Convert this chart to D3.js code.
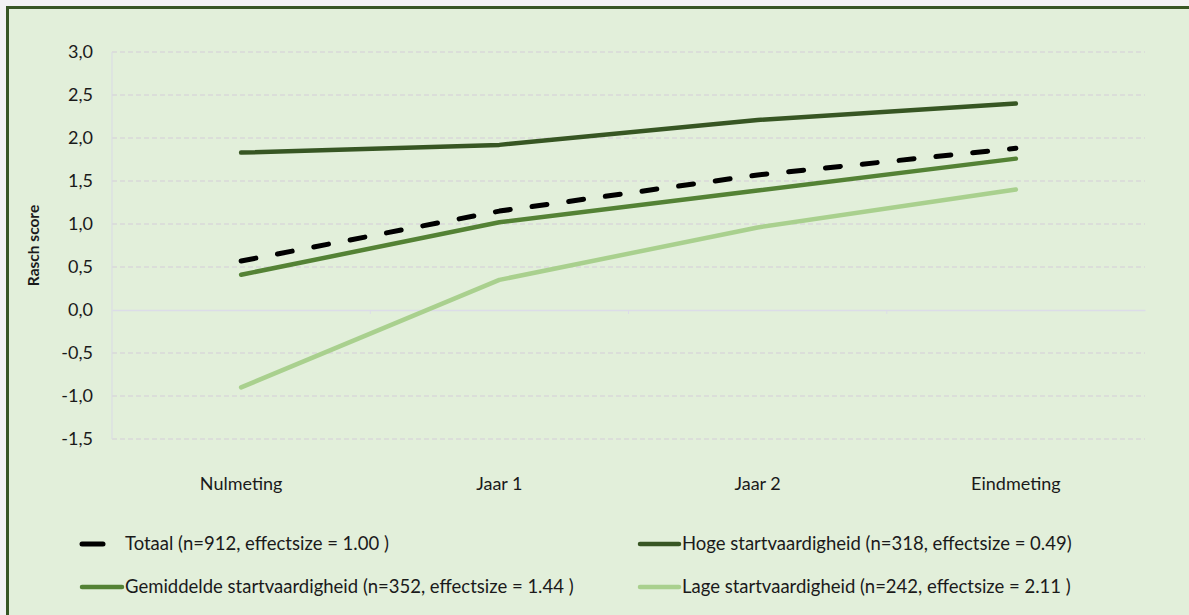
<!DOCTYPE html>
<html><head><meta charset="utf-8">
<script src="https://cdn.jsdelivr.net/npm/d3@7"></script>
<style>
html,body{margin:0;padding:0;background:#f2f2f2;}
svg{display:block;}
text{font-family:Lato,"Open Sans",sans-serif;fill:#1a1a1a;}
</style></head><body>
<script>
const categories = ["Nulmeting","Jaar 1","Jaar 2","Eindmeting"];
const seriesNames = [
  "Totaal (n=912, effectsize = 1.00 )",
  "Hoge startvaardigheid (n=318, effectsize = 0.49)",
  "Gemiddelde startvaardigheid (n=352, effectsize = 1.44 )",
  "Lage startvaardigheid (n=242, effectsize = 2.11 )"
];
const totaal = [0.57, 1.15, 1.57, 1.88];
const hoge = [1.83, 1.92, 2.21, 2.40];
const gemiddelde = [0.41, 1.02, 1.39, 1.76];
const lage = [-0.90, 0.35, 0.96, 1.40];
const yTicks = [-1.5,-1.0,-0.5,0,0.5,1.0,1.5,2.0,2.5,3.0];
const colors = ["#000000","#375623","#548235","#A9D08E"];

(function(){
const W=1189,H=615;
const svg=d3.select("body").append("svg").attr("width",W).attr("height",H);
svg.append("rect").attr("x",7).attr("y",7).attr("width",W).attr("height",H).attr("fill","#E2EFDA");
svg.append("path").attr("d",`M7.5,${H} V7.5 H${W}`).attr("fill","none").attr("stroke","#375623").attr("stroke-width",3);

const pL=112,pR=1145,pT=52,pB=439;
const x=d3.scaleBand().domain(categories).range([pL,pR]);
const y=d3.scaleLinear().domain([-1.5,3.0]).range([pB,pT]);

const g=svg.append("g");
g.selectAll("line.grid").data(yTicks.filter(v=>v!==0)).join("line")
  .attr("x1",pL).attr("x2",pR).attr("y1",d=>y(d)).attr("y2",d=>y(d))
  .attr("stroke","#D9D9D9").attr("stroke-width",1.5).attr("stroke-dasharray","5,3");
g.append("line").attr("x1",pL).attr("x2",pL).attr("y1",pT).attr("y2",pB).attr("stroke","#D9D9E6").attr("stroke-width",1);
const xAxis=d3.axisBottom(x).tickSize(0).tickFormat("");
const ax=svg.append("g").attr("transform",`translate(0,${y(0)})`).call(xAxis);
ax.select(".domain").attr("stroke","#DCDCE8").attr("stroke-width",1.5);
ax.selectAll(".sep").data(categories.slice(1)).join("line").attr("class","sep")
  .attr("x1",d=>x(d)).attr("x2",d=>x(d)).attr("y1",0).attr("y2",4).attr("stroke","#DCDCE8");

const yAxis=d3.axisLeft(y).tickValues(yTicks).tickSize(0).tickPadding(0).tickFormat(d=>d3.format(".1f")(d).replace(".",",").replace("−","-"));
const ya=svg.append("g").attr("transform",`translate(93,0)`).call(yAxis);
ya.select(".domain").remove();
ya.selectAll("text").attr("font-size",18).attr("fill","#1a1a1a").attr("font-family","Lato");

svg.selectAll("text.cat").data(categories).join("text").attr("class","cat")
  .attr("x",d=>x(d)+x.bandwidth()/2).attr("y",490).attr("text-anchor","middle").attr("font-size",18).text(d=>d);

svg.append("text").attr("transform",`translate(39,${(pT+pB)/2}) rotate(-90)`).attr("text-anchor","middle")
  .attr("font-size",15.5).attr("font-weight","bold").text("Rasch score");

const data=[totaal,hoge,gemiddelde,lage];
const line=d3.line().x((d,i)=>x(categories[i])+x.bandwidth()/2).y(d=>y(d));
[1,2,3,0].forEach(k=>{
  svg.append("path").attr("d",line(data[k])).attr("fill","none").attr("stroke",colors[k])
    .attr("stroke-width",k===0?5:4.5).attr("stroke-linecap","round").attr("stroke-linejoin","round")
    .attr("stroke-dasharray",k===0?"15,22":null);
});

const leg=[{i:0,x1:82,x2:103,tx:125,y:544},{i:1,x1:640,x2:679,tx:682,y:544},{i:2,x1:82,x2:122,tx:125,y:587},{i:3,x1:640,x2:679,tx:682,y:587}];
leg.forEach(l=>{
  svg.append("line").attr("x1",l.x1).attr("x2",l.x2).attr("y1",l.y).attr("y2",l.y)
    .attr("stroke",colors[l.i]).attr("stroke-width",l.i===0?5:4.5).attr("stroke-linecap","round");
  svg.append("text").attr("x",l.tx).attr("y",l.y).attr("dy","0.35em").attr("font-size",18.5).text(seriesNames[l.i]);
});
})();
</script>
</body></html>
